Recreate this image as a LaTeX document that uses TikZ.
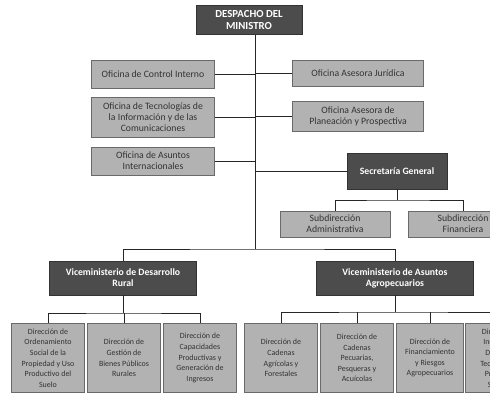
\documentclass[tikz,border=0pt]{standalone}
\usepackage{fontspec}
\setmainfont{Carlito}
\usepackage{tikz}
\usetikzlibrary{positioning}
\definecolor{boxlite}{HTML}{B2B2B2}
\definecolor{boxdark}{HTML}{4C4C4C}
\definecolor{boxedge}{HTML}{6A6A6A}
\definecolor{inktext}{HTML}{333333}

\tikzset{
  litebox/.style={draw=boxedge, fill=boxlite, line width=0.6pt, inner sep=1pt, align=center, text=inktext, font=\fontsize{8.3}{9.4}\selectfont},
  darkbox/.style={draw=black!80, fill=boxdark, line width=0.6pt, inner sep=1pt, align=center, text=white, font=\bfseries\fontsize{8.3}{9.4}\selectfont},
  unitbox/.style={litebox, minimum width=2.19cm, minimum height=2.07cm, font=\fontsize{6.8}{9}\selectfont},
  link/.style={draw=black!85, line width=0.8pt}
}

\begin{document}
\begin{tikzpicture}[x=0.03cm, y=-0.03cm]
  \useasboundingbox (0,0) rectangle (490,396);
  \clip (0,0) rectangle (490,396);
  % top
  \node[darkbox, minimum width=3.18cm, minimum height=0.87cm, font=\bfseries\fontsize{9.2}{10}\selectfont] (desp) at (249,20) {DESPACHO DEL\\MINISTRO};
  % staff offices
  \node[litebox, minimum width=3.69cm, minimum height=0.84cm] (ctrl) at (153,74) {Oficina de Control Interno};
  \node[litebox, minimum width=3.69cm, minimum height=1.2cm] (tic) at (153,117) {Oficina de Tecnologías de\\la Información y de las\\Comunicaciones};
  \node[litebox, minimum width=3.69cm, minimum height=0.84cm] (inter) at (153,161) {Oficina de Asuntos\\Internacionales};
  \node[litebox, minimum width=3.93cm, minimum height=0.78cm] (jur) at (358,73) {Oficina Asesora Jurídica};
  \node[litebox, minimum width=3.93cm, minimum height=0.9cm] (plan) at (358,116) {Oficina Asesora de\\Planeación y Prospectiva};
  % secretaria
  \node[darkbox, minimum width=3.0cm, minimum height=1.08cm] (sg) at (397,171) {Secretaría General};
  \node[litebox, minimum width=3.3cm, minimum height=0.78cm] (sad) at (335,224) {Subdirección\\Administrativa};
  \node[litebox, minimum width=3.3cm, minimum height=0.78cm] (sfi) at (463,224) {Subdirección\\Financiera};
  % viceministerios
  \node[darkbox, minimum width=4.41cm, minimum height=1.02cm] (vdr) at (123,278) {Viceministerio de Desarrollo\\Rural};
  \node[darkbox, minimum width=4.71cm, minimum height=1.02cm] (vaa) at (395,278) {Viceministerio de Asuntos\\Agropecuarios};
  % direcciones
  \node[unitbox] (d1) at (48,358) {Dirección de\\Ordenamiento\\Social de la\\Propiedad y Uso\\Productivo del\\Suelo};
  \node[unitbox] (d2) at (124,358) {Dirección de\\Gestión de\\Bienes Públicos\\Rurales};
  \node[unitbox] (d3) at (200,358) {Dirección de\\Capacidades\\Productivas y\\Generación de\\Ingresos};
  \node[unitbox] (d4) at (281,358) {Dirección de\\Cadenas\\Agrícolas y\\Forestales};
  \node[unitbox] (d5) at (357,358) {Dirección de\\Cadenas\\Pecuarias,\\Pesqueras y\\Acuícolas};
  \node[unitbox, minimum width=2.0cm] (d6) at (430,358) {Dirección de\\Financiamiento\\y Riesgos\\Agropecuarios};
  \node[unitbox] (d7) at (502,358) {Dirección de\\Innovación,\\Desarrollo\\Tecnológico y\\Protección\\Sanitaria};
  % connectors
  \coordinate (tk) at (255,35);
  \coordinate (hub) at (255,249);
  \coordinate (sgb) at (397,200);
  \coordinate (vdrb) at (123,313);
  \coordinate (vaab) at (395,312);
  \draw[link] (tk) -- (hub);
  \draw[link] (ctrl.east) -- (ctrl.east -| tk);
  \draw[link] (tic.east) -- (tic.east -| tk);
  \draw[link] (inter.east) -- (inter.east -| tk);
  \draw[link] (jur.west) -- (jur.west -| tk);
  \draw[link] (plan.west) -- (plan.west -| tk);
  \draw[link] (sg.west) -- (sg.west -| tk);
  \draw[link] (sg.south) -- (sgb);
  \draw[link] (sad.north) |- (sgb) -| (sfi.north);
  \draw[link] (vdr.north) |- (hub) -| (vaa.north);
  \draw[link] (vdr.south) -- (vdrb);
  \draw[link] (d1.north) |- (vdrb) -| (d3.north);
  \draw[link] (d2.north) -- (d2.north |- vdrb);
  \draw[link] (vaa.south) -- (vaab);
  \draw[link] (d4.north) |- (vaab) -| (d7.north);
  \draw[link] (d5.north) -- (d5.north |- vaab);
  \draw[link] (d6.north) -- (d6.north |- vaab);
\end{tikzpicture}
\end{document}
